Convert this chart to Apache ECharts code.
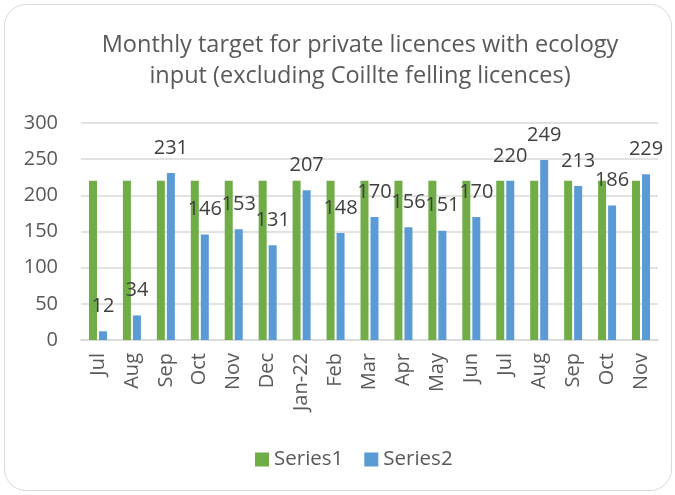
<!DOCTYPE html>
<html>
<head>
<meta charset="utf-8">
<script src="https://cdn.jsdelivr.net/npm/echarts@6/dist/echarts.min.js"></script>
<style>
  html, body { margin: 0; padding: 0; background: #fff; }
  .frame {
    position: absolute; left: 4px; top: 4px; width: 666px; height: 485px;
    border: 1.5px solid #d9d9d9; border-radius: 22px;
  }
  .grapheLicences { position: absolute; left: 0; top: 0; width: 675px; height: 495px; }
</style>
</head>
<body>
<div class="frame"></div>
<div class="grapheLicences"></div>
<script>
const categories = ['Jul', 'Aug', 'Sep', 'Oct', 'Nov', 'Dec', 'Jan-22', 'Feb', 'Mar', 'Apr', 'May', 'Jun', 'Jul', 'Aug', 'Sep', 'Oct', 'Nov'];
const series1 = [220, 220, 220, 220, 220, 220, 220, 220, 220, 220, 220, 220, 220, 220, 220, 220, 220];
const series2 = [12, 34, 231, 146, 153, 131, 207, 148, 170, 156, 151, 170, 220, 249, 213, 186, 229];
const yTicks = [0, 50, 100, 150, 200, 250, 300];

const fontFamily = 'Open Sans';
const txt = '#595959';

var dom = document.querySelector('.grapheLicences');
var myChart = echarts.init(dom, null, { renderer: 'canvas' });

const option = {
    animation: false,
    textStyle: { fontFamily: fontFamily },
    title: {
        text: 'Monthly target for private licences with ecology\ninput (excluding Coillte felling licences)',
        left: 355,
        textAlign: 'center',
        top: 25,
        textStyle: {
            fontFamily: fontFamily,
            fontWeight: 'normal',
            fontSize: 23.5,
            lineHeight: 31,
            color: txt
        }
    },
    legend: {
        bottom: 20,
        left: 250,
        itemWidth: 14,
        itemHeight: 14,
        itemGap: 21,
        icon: 'rect',
        textStyle: { fontFamily: fontFamily, fontSize: 20.5, color: txt },
        data: ['Series1', 'Series2']
    },
    grid: {
        left: 81,
        right: 17,
        top: 123,
        bottom: 155
    },
    xAxis: {
        type: 'category',
        data: categories,
        axisLabel: {
            rotate: 90,
            interval: 0,
            fontFamily: fontFamily,
            fontSize: 20,
            color: txt,
            margin: 13
        },
        axisLine: { lineStyle: { color: '#d9d9d9', width: 1.5 } },
        axisTick: { show: false }
    },
    yAxis: {
        type: 'value',
        min: yTicks[0],
        max: yTicks[yTicks.length - 1],
        interval: 50,
        axisLabel: {
            fontFamily: fontFamily,
            fontSize: 20,
            color: txt,
            margin: 23
        },
        axisLine: { show: false },
        axisTick: { show: false },
        splitLine: { lineStyle: { color: '#d9d9d9', width: 1.5 } }
    },
    series: [
        {
            name: 'Series1',
            type: 'bar',
            data: series1,
            barWidth: 8,
            barGap: '25%',
            itemStyle: { color: '#70ad47' }
        },
        {
            name: 'Series2',
            type: 'bar',
            data: series2,
            barWidth: 8,
            itemStyle: { color: '#5b9bd5' },
            label: {
                show: true,
                position: 'top',
                distance: 15,
                fontFamily: fontFamily,
                fontSize: 20,
                color: '#404040'
            }
        }
    ]
};

myChart.setOption(option);
window.addEventListener('resize', myChart.resize);
</script>
</body>
</html>
